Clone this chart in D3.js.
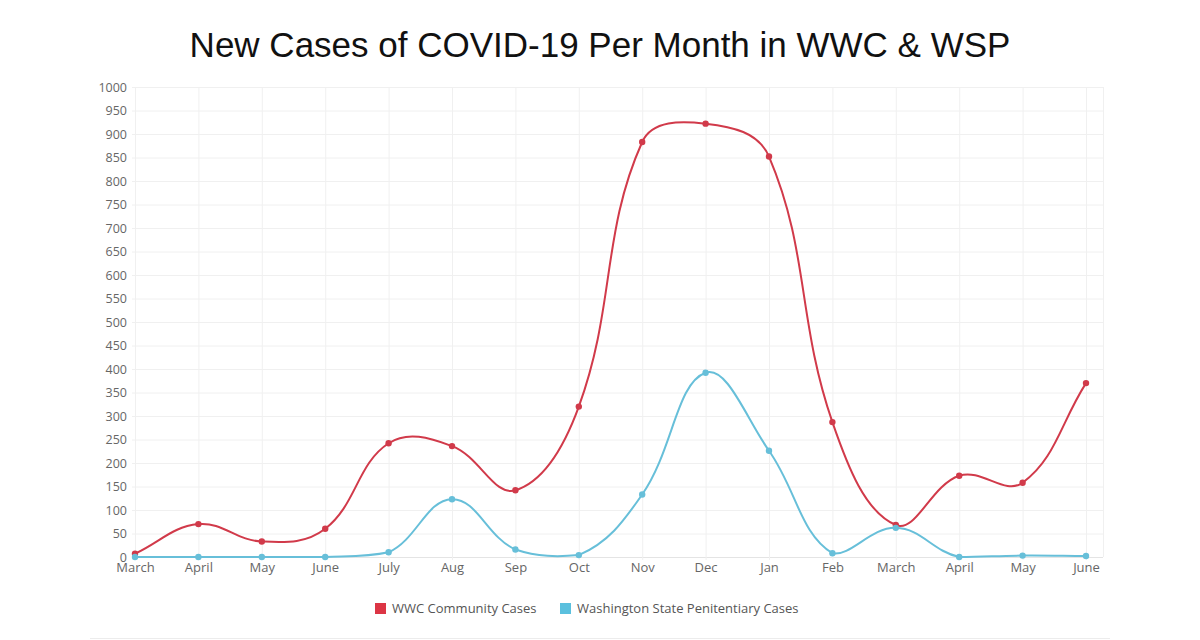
<!DOCTYPE html>
<html>
<head>
<meta charset="utf-8">
<script src="https://cdn.jsdelivr.net/npm/d3@7"></script>
<style>
  html, body { margin: 0; padding: 0; background: #fff; }
  svg { display: block; }
</style>
</head>
<body>
<svg id="chart" width="1200" height="640"></svg>
<script>
const months = ["March","April","May","June","July","Aug","Sep","Oct","Nov","Dec","Jan","Feb","March","April","May","June"];
const wwcCases = [7, 70, 33, 60, 242, 236, 142, 320, 883, 922, 852, 287, 68, 173, 158, 370];
const wspCases = [0, 0, 0, 0, 10, 123, 16, 4, 133, 392, 226, 8, 62, 0, 3, 2];
const yTicks = d3.range(0, 1001, 50);
const seriesNames = ["WWC Community Cases", "Washington State Penitentiary Cases"];
const seriesColors = ["#d13a4a", "#67bfd9"];
const legendColors = ["#dc3545", "#5bc0de"];

(function () {
const svg = d3.select("#chart");
const W = 1200, H = 640;
const pLeft = 135, pRight = 1086, pTop = 87, pBottom = 557;
const labelFont = "'Open Sans', 'Noto Sans', sans-serif";

const x = d3.scalePoint().domain(d3.range(months.length)).range([pLeft, pRight]);
const y = d3.scaleLinear().domain([0, 1000]).range([pBottom, pTop]);

// Chart.js-style spline (tension 0.4, distance weighted, control points capped to the plot area)
function chartjsCurve(context) {
  let pts = [];
  return {
    lineStart() { pts = []; },
    lineEnd() {
      const n = pts.length, t = 0.4;
      if (!n) return;
      const cps = pts.map((p, i) => {
        const prev = pts[Math.max(0, i - 1)], next = pts[Math.min(n - 1, i + 1)];
        const d01 = Math.hypot(p[0] - prev[0], p[1] - prev[1]);
        const d12 = Math.hypot(next[0] - p[0], next[1] - p[1]);
        let s01 = d01 / (d01 + d12), s12 = d12 / (d01 + d12);
        if (!isFinite(s01)) s01 = 0; if (!isFinite(s12)) s12 = 0;
        const fa = t * s01, fb = t * s12;
        const cap = (v, lo, hi) => Math.max(lo, Math.min(hi, v));
        return {
          px: cap(p[0] - fa * (next[0] - prev[0]), pLeft, pRight),
          py: cap(p[1] - fa * (next[1] - prev[1]), pTop, pBottom),
          nx: cap(p[0] + fb * (next[0] - prev[0]), pLeft, pRight),
          ny: cap(p[1] + fb * (next[1] - prev[1]), pTop, pBottom)
        };
      });
      context.moveTo(pts[0][0], pts[0][1]);
      for (let i = 1; i < n; i++) {
        context.bezierCurveTo(cps[i - 1].nx, cps[i - 1].ny, cps[i].px, cps[i].py, pts[i][0], pts[i][1]);
      }
    },
    point(px, py) { pts.push([+px, +py]); },
    areaStart() {}, areaEnd() {}
  };
}

// title
svg.append("text")
  .attr("x", W / 2).attr("y", 57)
  .attr("text-anchor", "middle")
  .attr("font-family", "'Liberation Sans', Arial, sans-serif")
  .attr("font-size", 35)
  .attr("fill", "#111")
  .text("New Cases of COVID-19 Per Month in WWC & WSP");

// grid
const grid = svg.append("g");
grid.selectAll("line.h").data(yTicks).enter().append("line")
  .attr("x1", pLeft - 3).attr("x2", 1103)
  .attr("y1", d => y(d) + 0.5).attr("y2", d => y(d) + 0.5)
  .attr("stroke", d => d === 0 ? "#e4e4e4" : "#f0f0f0").attr("stroke-width", 1);
grid.selectAll("line.v").data(d3.range(months.length)).enter().append("line")
  .attr("x1", d => x(d) + 0.5).attr("x2", d => x(d) + 0.5)
  .attr("y1", pTop).attr("y2", pBottom + 3)
  .attr("stroke", "#f0f0f0").attr("stroke-width", 1);
grid.append("line")
  .attr("x1", 1103.5).attr("x2", 1103.5).attr("y1", pTop).attr("y2", pBottom)
  .attr("stroke", "#f0f0f0");

// y axis labels
const yAxis = d3.axisLeft(y).tickValues(yTicks).tickFormat(d3.format("d")).tickSize(0).tickPadding(8);
const gy = svg.append("g").attr("transform", `translate(${pLeft},0)`).call(yAxis);
gy.select(".domain").remove();
gy.selectAll("text").attr("font-family", labelFont).attr("font-size", 12.5).attr("fill", "#666");

// x axis labels
const xAxis = d3.axisBottom(x).tickFormat(i => months[i]).tickSize(0).tickPadding(6);
const gx = svg.append("g").attr("transform", `translate(0,${pBottom})`).call(xAxis);
gx.select(".domain").remove();
gx.selectAll("text").attr("font-family", labelFont).attr("font-size", 13).attr("fill", "#666");

// lines
const line = d3.line().x((d, i) => x(i)).y(d => y(d)).curve(chartjsCurve);
[wwcCases, wspCases].forEach((data, k) => {
  svg.append("path").datum(data)
    .attr("d", line)
    .attr("fill", "none")
    .attr("stroke", seriesColors[k])
    .attr("stroke-width", 2);
  svg.append("g").selectAll("circle").data(data).enter().append("circle")
    .attr("cx", (d, i) => x(i)).attr("cy", d => y(d))
    .attr("r", 3.2)
    .attr("fill", seriesColors[k]);
});

// legend
const legendX = [375, 560];
legendX.forEach((lx, k) => {
  svg.append("rect").attr("x", lx).attr("y", 603).attr("width", 11).attr("height", 11)
    .attr("fill", legendColors[k]);
  svg.append("text").attr("x", lx + 17).attr("y", 613)
    .attr("font-family", labelFont).attr("font-size", 13).attr("fill", "#555")
    .text(seriesNames[k]);
});

// bottom separator
svg.append("line").attr("x1", 90).attr("x2", 1110).attr("y1", 638.5).attr("y2", 638.5)
  .attr("stroke", "#ececec");
})();
</script>
</body>
</html>
